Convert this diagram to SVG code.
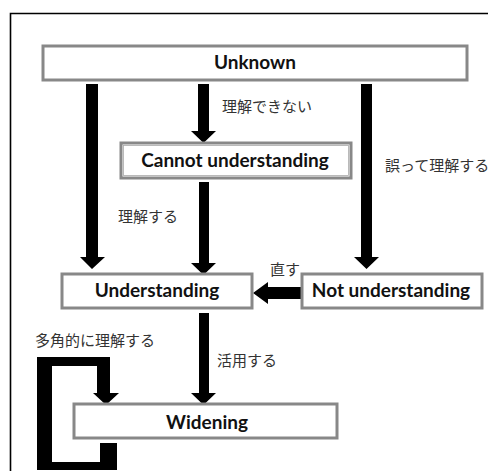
<svg xmlns="http://www.w3.org/2000/svg" width="488" height="471" viewBox="0 0 488 471">
<style>
.box{fill:#fff;stroke:#888;stroke-width:3}
.lbl{font-family:Lato,"Liberation Sans",sans-serif;font-weight:bold;font-size:19px;fill:#111;text-anchor:middle}
.jp{font-family:"Noto Sans CJK JP",sans-serif;font-size:15px;fill:#333}
.arr{fill:#000}
</style>
<rect width="488" height="471" fill="#fff"/>
<path d="M10.5,471 V13.5 H488" fill="none" stroke="#000" stroke-width="1.6"/>
<g id="connectors">
<polygon class="arr" points="86,84 98,84 98,257 105,257 92,269 80,257 86,257"/>
<polygon class="arr" points="198,84 209,84 209,131 216,131 203.5,143 191,131 198,131"/>
<polygon class="arr" points="361,84 372,84 372,257 379,257 366.5,269 354,257 361,257"/>
<polygon class="arr" points="199,182 209,182 209,263 216,263 203.5,275 191,263 199,263"/>
<polygon class="arr" points="199,313 209,313 209,393 216,393 203.5,405 191,393 199,393"/>
<polygon class="arr" points="302,287 302,299 268,299 268,304 253,293 268,282 268,287"/>
<polygon class="arr" points="100,443 117,443 117,470 37,470 37,357 110,357 110,393 119,393 106,405 93,393 97,393 97,366 52,366 52,462 100,462"/>
<text class="jp" x="222" y="112">理解できない</text>
<text class="jp" x="385" y="171">誤って理解する</text>
<text class="jp" x="118" y="222">理解する</text>
<text class="jp" x="270" y="275">直す</text>
<text class="jp" x="35" y="346">多角的に理解する</text>
<text class="jp" x="217" y="366">活用する</text>
</g>
<g id="unknown">
<rect class="box" x="43" y="46" width="424" height="34"/>
<text class="lbl" x="255" y="69">Unknown</text>
</g>
<g id="cannot">
<rect class="box" x="121" y="143" width="230" height="35"/>
<rect x="123.5" y="145.5" width="225" height="30" fill="none" stroke="#aaa" stroke-width="0.8"/>
<text class="lbl" x="235" y="167">Cannot understanding</text>
</g>
<g id="understanding">
<rect class="box" x="62" y="274" width="190" height="34"/>
<text class="lbl" x="157" y="297">Understanding</text>
</g>
<g id="not-understanding">
<rect class="box" x="302" y="274" width="180" height="34"/>
<text class="lbl" x="391" y="297">Not understanding</text>
</g>
<g id="widening">
<rect class="box" x="74" y="404" width="263" height="34"/>
<text class="lbl" x="207" y="429">Widening</text>
</g>
</svg>
